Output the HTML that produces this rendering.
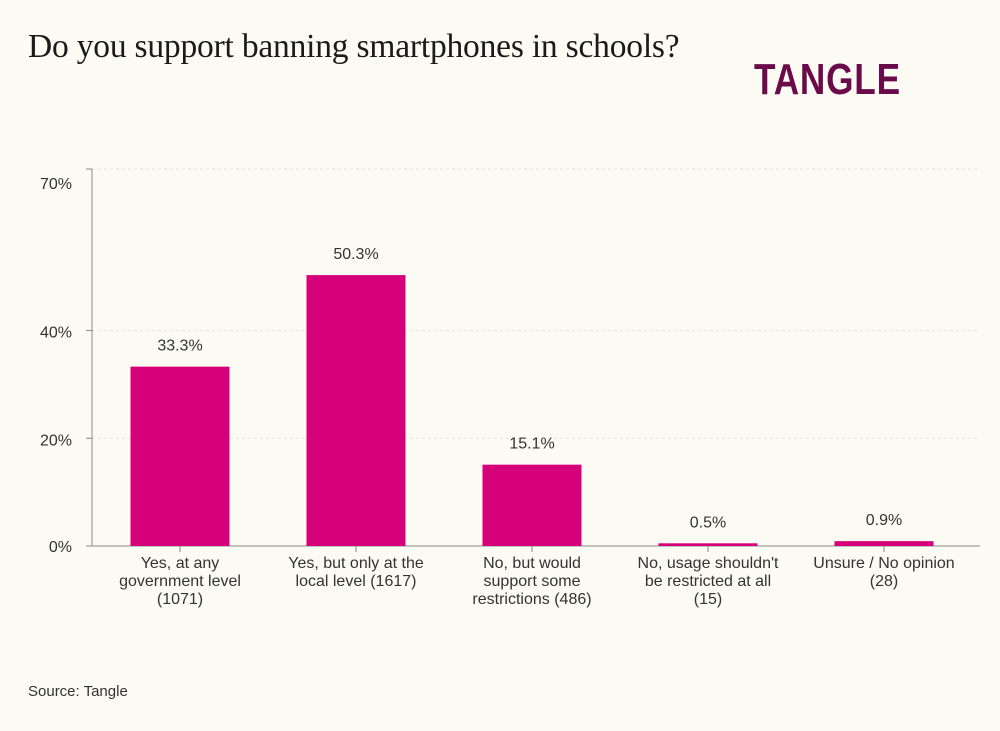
<!DOCTYPE html>
<html><head><meta charset="utf-8"><style>
body{margin:0;background:#fbfaf3;font-family:"Liberation Sans",sans-serif;}
#wrap{position:relative;width:1000px;height:731px;overflow:hidden;}
h1{position:absolute;left:28px;top:28px;margin:0;font-family:"Liberation Serif",serif;font-weight:normal;font-size:33.5px;color:#1a1a1a;letter-spacing:-0.2px;}
#logo{position:absolute;left:754px;top:58px;font-family:"Liberation Sans",sans-serif;font-weight:bold;font-size:44px;color:#6b0a4b;letter-spacing:1px;transform:scaleX(0.8);transform-origin:left top;line-height:1;}
#src{position:absolute;left:28px;top:683px;font-size:15px;color:#333;}
svg{position:absolute;left:0;top:0;}
</style></head><body><div id="wrap">
<h1>Do you support banning smartphones in schools?</h1>
<div id="logo">TANGLE</div>
<div id="src">Source: Tangle</div>
<svg id="chart" width="1000" height="731"></svg>
</div>
<script>
const categories=[["Yes, at any","government level","(1071)"],["Yes, but only at the","local level (1617)"],["No, but would","support some","restrictions (486)"],["No, usage shouldn't","be restricted at all","(15)"],["Unsure / No opinion","(28)"]];
const values=[33.3,50.3,15.1,0.5,0.9];
const valueLabels=["33.3%","50.3%","15.1%","0.5%","0.9%"];
const ticks=[0,20,40,70];
const tickLabels=["0%","20%","40%","70%"];
const NS="http://www.w3.org/2000/svg";
const svg=document.getElementById('chart');
const y0=546,yTop=169,maxV=70,x0=92,step=176,bw=99,firstC=180;
const y=v=>y0-(y0-yTop)*v/maxV;
const xc=i=>firstC+i*step;
function mk(t,a){const e=document.createElementNS(NS,t);for(const k in a)e.setAttribute(k,a[k]);svg.appendChild(e);return e;}
ticks.forEach((t,i)=>{
 if(t>0){const g=mk('line',{x1:x0,x2:980,y1:y(t),y2:y(t),stroke:'#e6e4da','stroke-dasharray':'3,3'});
 
 }
 const tk=mk('line',{x1:x0-6,x2:x0,y1:y(t),y2:y(t),stroke:'#888'});
 
 
 const off=(i===ticks.length-1)?20:(t===0?6:7);
 const l=mk('text',{x:72,y:y(t)+off,'text-anchor':'end','font-size':'16',fill:'#333'});
 l.textContent=tickLabels[i];
 
 
});
const ax=mk('line',{x1:x0,x2:x0,y1:yTop,y2:y0,stroke:'#888'});


const xa=mk('line',{x1:x0-6,x2:980,y1:y0,y2:y0,stroke:'#888'});


values.forEach((v,i)=>{
 const b=mk('rect',{x:xc(i)-bw/2,y:y(v),width:bw,height:y0-y(v),fill:'#d6007a'});
 
 
 const t=mk('text',{x:xc(i),y:y(v)-16,'text-anchor':'middle','font-size':'16',fill:'#333'});
 t.textContent=valueLabels[i];
 
 
 const tk=mk('line',{x1:xc(i),x2:xc(i),y1:y0,y2:y0+6,stroke:'#888'});
 
 
 categories[i].forEach((ln,j)=>{
  const c=mk('text',{x:xc(i),y:568+j*18,'text-anchor':'middle','font-size':'16',fill:'#333'});
  c.textContent=ln;
  
  
 });
});
</script></body></html>
